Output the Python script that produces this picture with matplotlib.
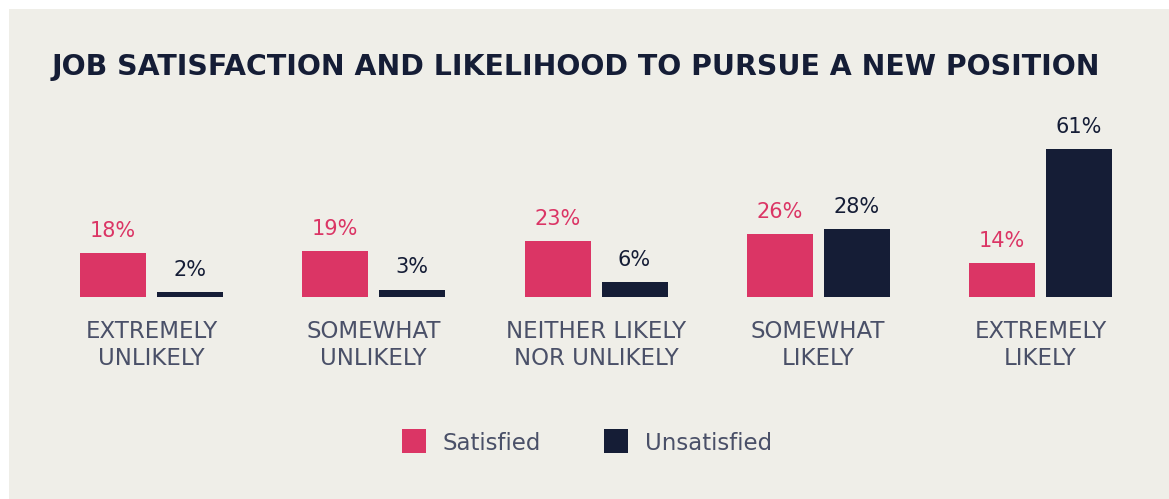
import matplotlib
matplotlib.use("Agg")
import matplotlib.pyplot as plt
from matplotlib.patches import Rectangle

categories = ["EXTREMELY\nUNLIKELY", "SOMEWHAT\nUNLIKELY", "NEITHER LIKELY\nNOR UNLIKELY",
              "SOMEWHAT\nLIKELY", "EXTREMELY\nLIKELY"]
satisfied = [18, 19, 23, 26, 14]
unsatisfied = [2, 3, 6, 28, 61]
series_names = ["Satisfied", "Unsatisfied"]
title = "JOB SATISFACTION AND LIKELIHOOD TO PURSUE A NEW POSITION"

PINK = "#DB3565"
NAVY = "#151D36"
GREY = "#4A5068"
BG = "#EFEEE8"

W, H = 1169, 499
fig = plt.figure(figsize=(W / 100, H / 100), dpi=100)
fig.patch.set_facecolor("white")
fig.add_artist(Rectangle((9 / W, 0), 1, (H - 9) / H, transform=fig.transFigure,
                         facecolor=BG, edgecolor="none", zorder=0))

font = "DejaVu Sans"

# axes geometry in pixels
base_px = 297
px_per = 2.42
ymax = 70
spacing = 222.25
left_px = 151.5 - spacing / 2
ax = fig.add_axes([left_px / W, (H - base_px) / H, 5 * spacing / W, ymax * px_per / H])
ax.set_xlim(-0.5, 4.5)
ax.set_ylim(0, ymax)
ax.axis("off")

bw = 66 / spacing
off = 38.5 / spacing
x = range(len(categories))
b1 = ax.bar([i - off for i in x], satisfied, width=bw, color=PINK, label=series_names[0])
b2 = ax.bar([i + off for i in x], unsatisfied, width=bw, color=NAVY, label=series_names[1])
for bars, vals, col in ((b1, satisfied, PINK), (b2, unsatisfied, NAVY)):
    for r, v in zip(bars, vals):
        ax.annotate(f"{v}%", (r.get_x() + r.get_width() / 2, v), xytext=(0, 9),
                    textcoords="offset points", ha="center", va="bottom",
                    fontsize=15, color=col, family=font)

for i, c in enumerate(categories):
    ax.annotate(c, (i, 0), xytext=(0, -16.5), textcoords="offset points",
                ha="center", va="top", fontsize=16.5, color=GREY, family=font,
                linespacing=1.2)

fig.text(52 / W, 1 - 75 / H, title, ha="left", va="baseline", fontsize=20.4,
         fontweight="bold", color=NAVY, family=font)

# legend
for xs, col, name in ((402, PINK, series_names[0]), (604, NAVY, series_names[1])):
    fig.add_artist(Rectangle((xs / W, 1 - 453 / H), 24 / W, 24 / H, transform=fig.transFigure,
                             facecolor=col, edgecolor="none"))
    fig.text((xs + 41) / W, 1 - 443 / H, name, ha="left", va="center", fontsize=16.5,
             color=GREY, family=font)

fig.savefig("out.png", dpi=100, facecolor=fig.get_facecolor())
